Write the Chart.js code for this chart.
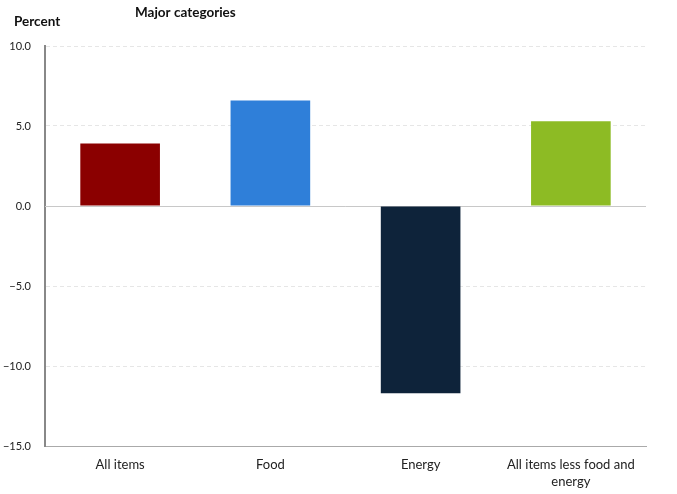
<!DOCTYPE html>
<html>
<head>
<meta charset="utf-8">
<script src="https://cdn.jsdelivr.net/npm/chart.js@4/dist/chart.umd.min.js"></script>
<style>
  html, body { margin: 0; padding: 0; background: #fff; }
  #wrap { width: 677px; height: 494px; position: relative; }
</style>
</head>
<body>
<div id="wrap"><canvas id="c"></canvas></div>
<script>
// values
const categories = ['All items', 'Food', 'Energy', ['All items less food and', 'energy']];
const changes = [3.9, 6.6, -11.7, 5.3];
const barColors = ['#8b0000', '#2f7fd9', '#0e233a', '#8dbb24'];
const yTicks = { min: -15, max: 10, step: 5 };

const fontFam = 'Lato, "Open Sans", sans-serif';

// headings + solid zero line
const extras = {
  id: 'extras',
  beforeDatasetsDraw(chart) {
    const { ctx, chartArea, scales } = chart;
    const y0 = Math.round(scales.y.getPixelForValue(0)) + 0.5;
    ctx.save();
    ctx.strokeStyle = '#c8c8c8';
    ctx.lineWidth = 1;
    ctx.beginPath();
    ctx.moveTo(chartArea.left, y0);
    ctx.lineTo(chartArea.right, y0);
    ctx.stroke();
    ctx.restore();
  },
  afterDraw(chart) {
    const ctx = chart.ctx;
    ctx.save();
    ctx.fillStyle = '#111';
    ctx.font = 'bold 13.5px ' + fontFam;
    ctx.textBaseline = 'alphabetic';
    ctx.fillText('Percent', 14, 26);
    ctx.fillText('Major categories', 135, 17);
    ctx.restore();
  }
};

new Chart(document.getElementById('c'), {
  type: 'bar',
  data: {
    labels: categories,
    datasets: [{
      data: changes,
      backgroundColor: barColors,
      borderWidth: 0,
      barPercentage: 0.53,
      categoryPercentage: 1
    }]
  },
  options: {
    responsive: true,
    maintainAspectRatio: false,
    animation: false,
    layout: { padding: { top: 46, right: 31, left: 0, bottom: 0 } },
    plugins: { legend: { display: false }, tooltip: { enabled: false } },
    scales: {
      x: {
        grid: { display: false },
        border: { color: '#aaa', width: 1 },
        ticks: { color: '#222', font: { family: fontFam, size: 13, lineHeight: 1.3 }, padding: 2, maxRotation: 0, autoSkip: false },
        afterFit(s) { s.height = 48; }
      },
      y: {
        min: yTicks.min,
        max: yTicks.max,
        grid: { color: '#e6e6e6', drawTicks: false },
        border: {
          color: '#888', width: 2,
          dash: ctx => (ctx.tick && ctx.tick.value === 0) ? [] : [4, 3]
        },
        ticks: {
          stepSize: yTicks.step,
          padding: 14,
          color: '#222',
          font: { family: fontFam, size: 11 },
          callback: v => v.toFixed(1).replace('-', '\u2212')
        },
        afterFit(s) { s.width = 45; }
      }
    }
  },
  plugins: [extras]
});
</script>
</body>
</html>
